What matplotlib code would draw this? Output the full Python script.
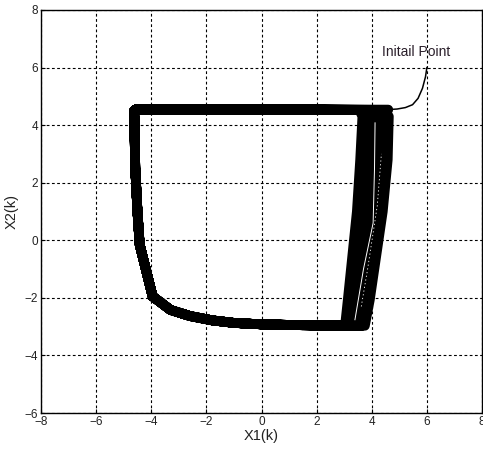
import matplotlib
matplotlib.use("Agg")
import matplotlib.pyplot as plt
import numpy as np

# ---- data ----
x_ticks = [-8, -6, -4, -2, 0, 2, 4, 6, 8]
y_ticks = [-6, -4, -2, 0, 2, 4, 6, 8]

# initial transient from the initial point
init_x = [6.00, 5.95, 5.84, 5.68, 5.48, 5.22, 4.92, 4.60]
init_y = [6.00, 5.68, 5.28, 4.93, 4.71, 4.61, 4.56, 4.54]

# shared part of every loop: top-left corner, left side, bottom
path_x = [-4.62, -4.58, -4.50, -4.42, -3.95, -3.30, -2.60, -1.80, -1.00, 0.00, 1.50]
path_y = [4.50, 2.50, 1.00, -0.15, -1.95, -2.42, -2.63, -2.78, -2.87, -2.92, -2.95]

# right side of each loop (from bottom-right corner up to top-right corner)
right_y = [-2.97, -2.07, 1.00, 2.80, 4.30, 4.53]
loop1_x = [3.03, 3.13, 3.46, 3.58, 3.66, 3.55]
loop2_x = [3.15, 3.28, 3.62, 3.76, 3.85, 3.72]
loop3_x = [3.28, 3.42, 3.80, 3.95, 4.03, 3.90]
loop4_x = [3.40, 3.56, 3.97, 4.13, 4.20, 4.06]
loop5_x = [3.52, 3.70, 4.13, 4.30, 4.36, 4.22]
loop6_x = [3.64, 3.82, 4.27, 4.46, 4.50, 4.36]
loop7_x = [3.75, 3.93, 4.40, 4.58, 4.62, 4.48]
loops_x = [loop7_x, loop6_x, loop5_x, loop4_x, loop3_x, loop2_x, loop1_x]

top_left_x = [-4.55]
top_left_y = [4.55]

# thin gaps visible inside the right band
gap1_x = [3.39, 3.70, 4.05, 4.10, 4.12]
gap1_y = [-2.76, -1.00, 0.60, 2.50, 4.08]
gap2_x = [3.62, 3.85, 4.20, 4.35]
gap2_y = [-2.30, -1.00, 1.20, 3.00]

label_font = ['Liberation Sans', 'Arial', 'DejaVu Sans']

fig = plt.figure(figsize=(4.83, 4.55), dpi=100)
ax = fig.add_axes([41/483, 42/455, 441/483, 403/455])

# build the full trajectory
traj_x = [init_x[-1]]
traj_y = [init_y[-1]]
for lx in loops_x:
    traj_x += top_left_x + path_x + lx
    traj_y += top_left_y + path_y + right_y
traj_x += top_left_x + path_x
traj_y += top_left_y + path_y

# thin initial curve
ax.plot(init_x, init_y, color='black', lw=1.1, zorder=3)
# thick limit-cycle band
ax.plot(traj_x, traj_y, color='black', lw=7.0,
        solid_joinstyle='round', solid_capstyle='round', zorder=3)
# light streaks inside the band
ax.plot(gap1_x, gap1_y, color='white', lw=0.7, zorder=4)
ax.plot(gap2_x, gap2_y, color='white', lw=0.6, linestyle=(0, (1.5, 3)), zorder=4)

ax.set_xlim(-8, 8)
ax.set_ylim(-6, 8)
ax.set_xticks(x_ticks)
ax.set_yticks(y_ticks)
ax.grid(True, color='black', linestyle=(0, (2.5, 2.2)), linewidth=0.8)
ax.tick_params(direction='in', length=3, width=0.8, colors='black',
               labelcolor='#222222', labelsize=8.5, pad=2)
for lab in ax.get_xticklabels() + ax.get_yticklabels():
    lab.set_fontfamily(label_font)
for s in ax.spines.values():
    s.set_linewidth(1.0)
    s.set_color('black')

ax.set_xlabel('X1(k)', fontsize=10.5, family=label_font, color='#222222', labelpad=1)
ax.set_ylabel('X2(k)', fontsize=10.5, family=label_font, color='#222222', labelpad=4)

ax.text(4.37, 6.54, 'Initail Point', fontsize=10, family=label_font,
        color='#2a1f2a', ha='left', va='center')

fig.savefig('out.png', dpi=100)
